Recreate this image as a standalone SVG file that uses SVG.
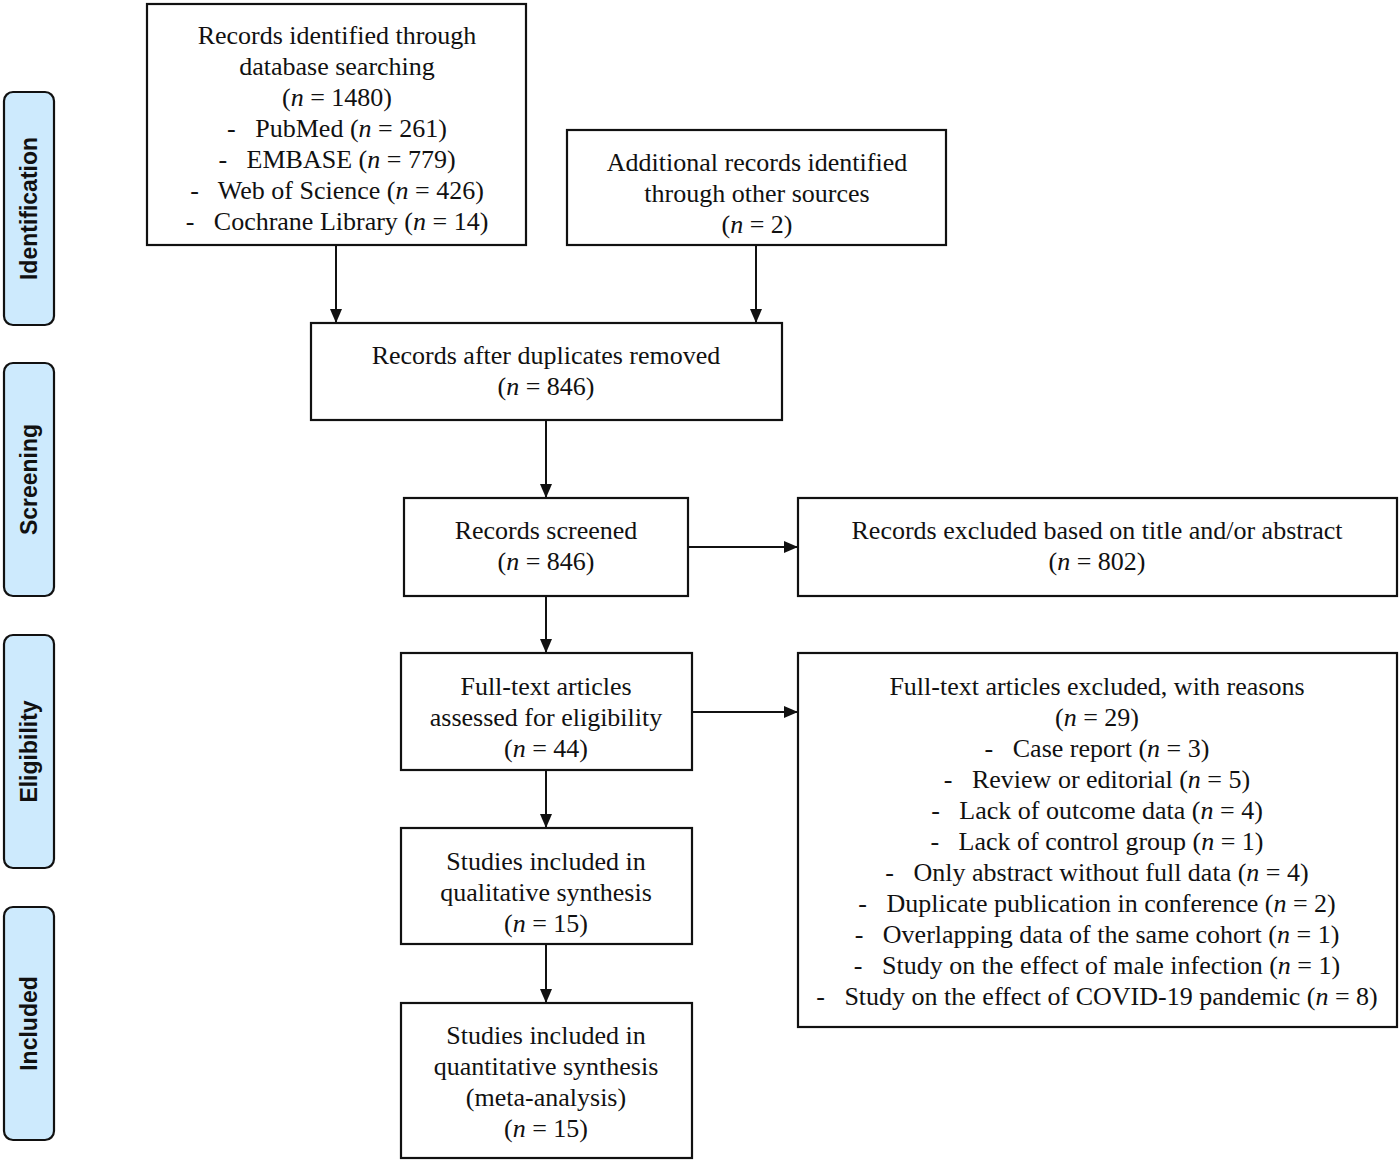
<svg xmlns="http://www.w3.org/2000/svg" width="1400" height="1161" viewBox="0 0 1400 1161">
<defs>
<style>
.box{fill:#fff;stroke:#111;stroke-width:2.2}
.side{fill:#cdeafd;stroke:#111;stroke-width:2.2}
.t{font-family:"Liberation Serif","Times New Roman",serif;font-size:26px;fill:#111;text-anchor:middle;white-space:pre}
.s{font-family:"Liberation Sans",Arial,sans-serif;font-size:23px;font-weight:bold;fill:#111;text-anchor:middle}
.i{font-style:italic}
.c{stroke:#111;stroke-width:2;fill:none;marker-end:url(#ah)}
</style>
<marker id="ah" viewBox="0 0 14 12" refX="14" refY="6" markerWidth="14" markerHeight="12" markerUnits="userSpaceOnUse" orient="auto">
<path d="M0,0 L14,6 L0,12 Z" fill="#111"/>
</marker>
</defs>
<rect width="1400" height="1161" fill="#fff"/>

<g id="side-identification"><rect class="side" x="4" y="92" width="50" height="233" rx="9"/><text class="s" transform="translate(37,208.5) rotate(-90)">Identification</text></g>
<g id="side-screening"><rect class="side" x="4" y="363" width="50" height="233" rx="9"/><text class="s" transform="translate(37,479.5) rotate(-90)">Screening</text></g>
<g id="side-eligibility"><rect class="side" x="4" y="635" width="50" height="233" rx="9"/><text class="s" transform="translate(37,751.5) rotate(-90)">Eligibility</text></g>
<g id="side-included"><rect class="side" x="4" y="907" width="50" height="233" rx="9"/><text class="s" transform="translate(37,1023.5) rotate(-90)">Included</text></g>

<g id="connectors">
<line class="c" x1="336" y1="245" x2="336" y2="323"/>
<line class="c" x1="756" y1="245" x2="756" y2="323"/>
<line class="c" x1="546" y1="420" x2="546" y2="498"/>
<line class="c" x1="546" y1="596" x2="546" y2="653"/>
<line class="c" x1="546" y1="770" x2="546" y2="828"/>
<line class="c" x1="546" y1="944" x2="546" y2="1003"/>
<line class="c" x1="688" y1="547" x2="798" y2="547"/>
<line class="c" x1="692" y1="712" x2="798" y2="712"/>
</g>

<g id="n-identified"><rect class="box" x="147" y="4" width="379" height="241"/>
<text class="t" x="337" y="44">Records identified through</text>
<text class="t" x="337" y="75">database searching</text>
<text class="t" x="337" y="106">(<tspan class="i">n</tspan> = 1480)</text>
<text class="t" x="337" y="137">-   PubMed (<tspan class="i">n</tspan> = 261)</text>
<text class="t" x="337" y="168">-   EMBASE (<tspan class="i">n</tspan> = 779)</text>
<text class="t" x="337" y="199">-   Web of Science (<tspan class="i">n</tspan> = 426)</text>
<text class="t" x="337" y="230">-   Cochrane Library (<tspan class="i">n</tspan> = 14)</text>
</g>

<g id="n-additional"><rect class="box" x="567" y="130" width="379" height="115"/>
<text class="t" x="757" y="171">Additional records identified</text>
<text class="t" x="757" y="202">through other sources</text>
<text class="t" x="757" y="233">(<tspan class="i">n</tspan> = 2)</text>
</g>

<g id="n-dedup"><rect class="box" x="311" y="323" width="471" height="97"/>
<text class="t" x="546" y="364">Records after duplicates removed</text>
<text class="t" x="546" y="395">(<tspan class="i">n</tspan> = 846)</text>
</g>

<g id="n-screened"><rect class="box" x="404" y="498" width="284" height="98"/>
<text class="t" x="546" y="539">Records screened</text>
<text class="t" x="546" y="570">(<tspan class="i">n</tspan> = 846)</text>
</g>

<g id="n-excluded"><rect class="box" x="798" y="498" width="599" height="98"/>
<text class="t" x="1097" y="539">Records excluded based on title and/or abstract</text>
<text class="t" x="1097" y="570">(<tspan class="i">n</tspan> = 802)</text>
</g>

<g id="n-fulltext"><rect class="box" x="401" y="653" width="291" height="117"/>
<text class="t" x="546" y="695">Full-text articles</text>
<text class="t" x="546" y="726">assessed for eligibility</text>
<text class="t" x="546" y="757">(<tspan class="i">n</tspan> = 44)</text>
</g>

<g id="n-ft-excluded"><rect class="box" x="798" y="653" width="599" height="374"/>
<text class="t" x="1097" y="695">Full-text articles excluded, with reasons</text>
<text class="t" x="1097" y="726">(<tspan class="i">n</tspan> = 29)</text>
<text class="t" x="1097" y="757">-   Case report (<tspan class="i">n</tspan> = 3)</text>
<text class="t" x="1097" y="788">-   Review or editorial (<tspan class="i">n</tspan> = 5)</text>
<text class="t" x="1097" y="819">-   Lack of outcome data (<tspan class="i">n</tspan> = 4)</text>
<text class="t" x="1097" y="850">-   Lack of control group (<tspan class="i">n</tspan> = 1)</text>
<text class="t" x="1097" y="881">-   Only abstract without full data (<tspan class="i">n</tspan> = 4)</text>
<text class="t" x="1097" y="912">-   Duplicate publication in conference (<tspan class="i">n</tspan> = 2)</text>
<text class="t" x="1097" y="943">-   Overlapping data of the same cohort (<tspan class="i">n</tspan> = 1)</text>
<text class="t" x="1097" y="974">-   Study on the effect of male infection (<tspan class="i">n</tspan> = 1)</text>
<text class="t" x="1097" y="1005">-   Study on the effect of COVID-19 pandemic (<tspan class="i">n</tspan> = 8)</text>
</g>

<g id="n-qualitative"><rect class="box" x="401" y="828" width="291" height="116"/>
<text class="t" x="546" y="870">Studies included in</text>
<text class="t" x="546" y="901">qualitative synthesis</text>
<text class="t" x="546" y="932">(<tspan class="i">n</tspan> = 15)</text>
</g>

<g id="n-quantitative"><rect class="box" x="401" y="1003" width="291" height="155"/>
<text class="t" x="546" y="1044">Studies included in</text>
<text class="t" x="546" y="1075">quantitative synthesis</text>
<text class="t" x="546" y="1106">(meta-analysis)</text>
<text class="t" x="546" y="1137">(<tspan class="i">n</tspan> = 15)</text>
</g>
</svg>
